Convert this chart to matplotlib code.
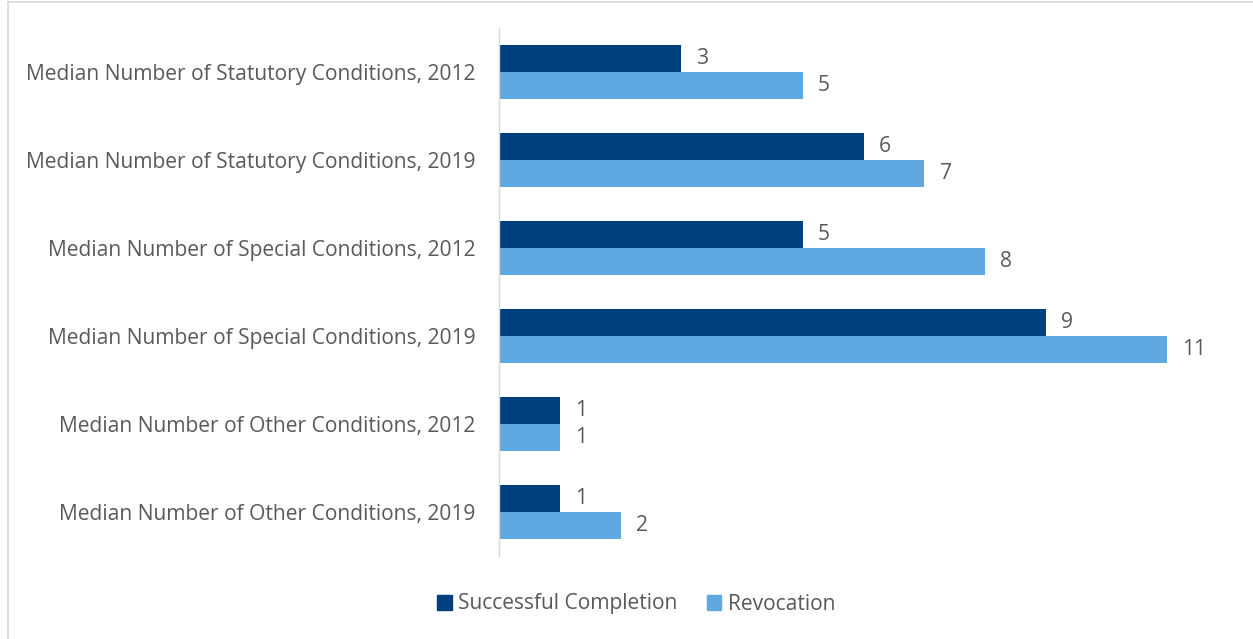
import matplotlib
matplotlib.use("Agg")
import matplotlib.pyplot as plt
from matplotlib.lines import Line2D
import numpy as np

categories = [
    "Median Number of Statutory Conditions, 2012",
    "Median Number of Statutory Conditions, 2019",
    "Median Number of Special Conditions, 2012",
    "Median Number of Special Conditions, 2019",
    "Median Number of Other Conditions, 2012",
    "Median Number of Other Conditions, 2019",
]
successful = [3, 6, 5, 9, 1, 1]
revocation = [5, 7, 8, 11, 1, 2]
series_names = ["Successful Completion", "Revocation"]
colors = ["#003F7D", "#5FA8E2"]

plt.rcParams['font.family'] = ['Open Sans', 'DejaVu Sans']
text_color = "#595959"
fs = 15.1

W, H = 1253, 639
fig = plt.figure(figsize=(W / 100, H / 100), dpi=100)
ax = fig.add_axes([499 / W, 1 - 556 / H, (1228 - 499) / W, (556 - 28) / H])

n = len(categories)
y = np.arange(n)
bh = 0.307
ax.barh(y - bh / 2, successful, height=bh, color=colors[0], label=series_names[0])
ax.barh(y + bh / 2, revocation, height=bh, color=colors[1], label=series_names[1])

for yi, v in zip(y, successful):
    ax.annotate(str(v), (v, yi - bh / 2), xytext=(11, 0), textcoords="offset points",
                va="center", ha="left", fontsize=fs, color=text_color)
for yi, v in zip(y, revocation):
    ax.annotate(str(v), (v, yi + bh / 2), xytext=(11, 0), textcoords="offset points",
                va="center", ha="left", fontsize=fs, color=text_color)

ax.set_xlim(0, 12)
ax.set_ylim(n - 0.5, -0.5)
ax.set_yticks(y)
ax.set_yticklabels(categories, fontsize=fs, color=text_color)
ax.tick_params(axis='y', length=0, pad=17)
ax.set_xticks([])
for s in ["top", "right", "bottom"]:
    ax.spines[s].set_visible(False)
ax.spines["left"].set_color("#D9D9D9")
ax.spines["left"].set_linewidth(1.0)

handles = [plt.Rectangle((0, 0), 1, 1, color=c) for c in colors]
fig.legend(handles, series_names, loc="center", bbox_to_anchor=(636 / W, 1 - 604 / H),
           ncol=2, frameon=False, fontsize=fs, handlelength=0.7, handleheight=0.7,
           handletextpad=0.3, columnspacing=1.4, labelcolor=text_color)

fig.add_artist(Line2D([7.5 / W, 7.5 / W], [0, 1 - 1.5 / H], transform=fig.transFigure,
                      color="#D9D9D9", linewidth=1.2))
fig.add_artist(Line2D([7.5 / W, 1], [1 - 1.5 / H, 1 - 1.5 / H], transform=fig.transFigure,
                      color="#D9D9D9", linewidth=1.2))

fig.savefig("out.png", dpi=100, facecolor="white")
